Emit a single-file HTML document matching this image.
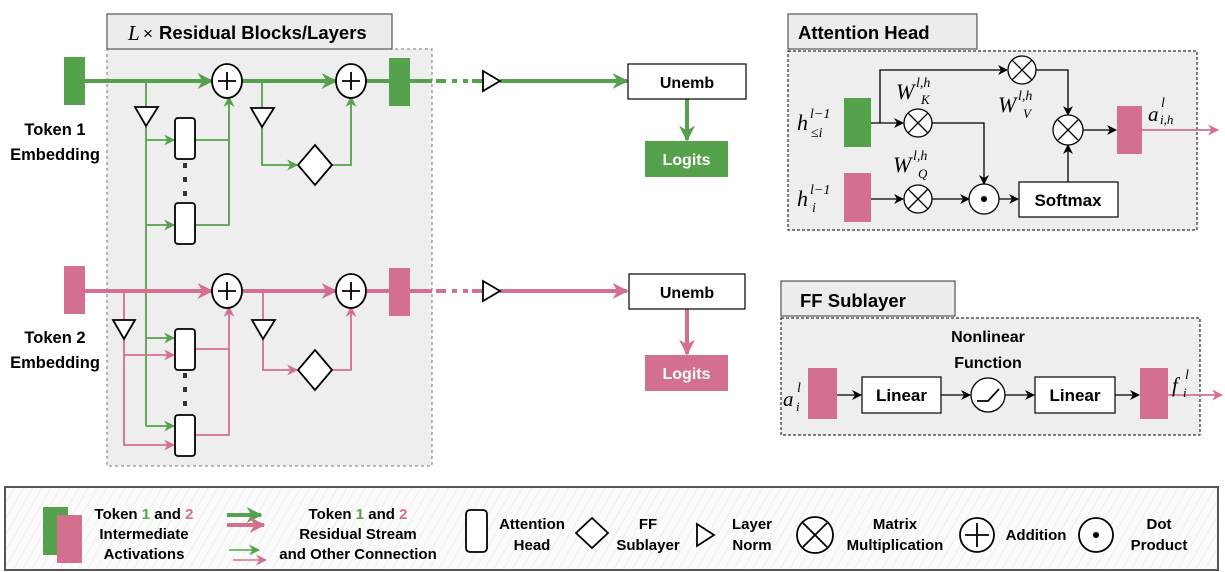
<!DOCTYPE html>
<html><head><meta charset="utf-8"><style>
html,body{margin:0;padding:0;background:#fff;}
svg{display:block;font-family:"Liberation Sans",sans-serif;}
.b{font-weight:bold;}
.m{font-family:"Liberation Serif",serif;font-style:italic;}
</style></head><body>
<svg width="1225" height="572" viewBox="0 0 1225 572" xmlns="http://www.w3.org/2000/svg">
<defs>
<marker id="agB" viewBox="0 0 10 10" refX="9" refY="5" markerWidth="18" markerHeight="16" orient="auto" markerUnits="userSpaceOnUse"><path d="M0,0 L10,5 L0,10 L3,5z" fill="#56a14b"/></marker>
<marker id="agS" viewBox="0 0 10 10" refX="9" refY="5" markerWidth="12" markerHeight="11" orient="auto" markerUnits="userSpaceOnUse"><path d="M0,0 L10,5 L0,10 L3,5z" fill="#56a14b"/></marker>
<marker id="apB" viewBox="0 0 10 10" refX="9" refY="5" markerWidth="18" markerHeight="16" orient="auto" markerUnits="userSpaceOnUse"><path d="M0,0 L10,5 L0,10 L3,5z" fill="#d3708f"/></marker>
<marker id="apS" viewBox="0 0 10 10" refX="9" refY="5" markerWidth="12" markerHeight="11" orient="auto" markerUnits="userSpaceOnUse"><path d="M0,0 L10,5 L0,10 L3,5z" fill="#d3708f"/></marker>
<marker id="ak" viewBox="0 0 10 10" refX="9" refY="5" markerWidth="11" markerHeight="10" orient="auto" markerUnits="userSpaceOnUse"><path d="M0,0 L10,5 L0,10 L3,5z" fill="#000"/></marker>
<pattern id="hatch" width="8" height="8" patternUnits="userSpaceOnUse" patternTransform="rotate(30)"><rect width="8" height="8" fill="#fbfbfb"/><line x1="0" y1="0" x2="0" y2="8" stroke="#e2e2e2" stroke-width="1"/></pattern>
</defs>

<!-- LEFT PANEL -->
<rect x="107" y="49" width="325" height="417" fill="#eeeeee" stroke="#777" stroke-dasharray="3,3"/>
<rect x="107" y="14" width="285" height="35" fill="#ececec" stroke="#555" stroke-width="1.2"/>
<text x="128" y="40" class="m" font-size="21">L</text><text x="143" y="39" font-size="17">×</text>
<text x="159" y="39" class="b" font-size="18.5">Residual Blocks/Layers</text>

<text x="55" y="135" class="b" font-size="16.5" text-anchor="middle">Token 1</text>
<text x="55" y="160" class="b" font-size="16.5" text-anchor="middle">Embedding</text>
<text x="55" y="343" class="b" font-size="16.5" text-anchor="middle">Token 2</text>
<text x="55" y="368" class="b" font-size="16.5" text-anchor="middle">Embedding</text>

<g stroke="#56a14b" stroke-width="1.8" fill="none">
<line x1="146" y1="81" x2="146" y2="108"/>
<line x1="146" y1="126" x2="146" y2="426"/>
<line x1="146" y1="140" x2="174" y2="140" marker-end="url(#agS)"/>
<line x1="146" y1="225" x2="174" y2="225" marker-end="url(#agS)"/>
<line x1="146" y1="338" x2="174" y2="338" marker-end="url(#agS)"/>
<line x1="146" y1="426" x2="174" y2="426" marker-end="url(#agS)"/>
<polyline points="195,140 229,140"/>
<polyline points="195,225 229,225 229,97" marker-end="url(#agS)"/>
<line x1="262" y1="81" x2="262" y2="108"/>
<polyline points="262,126 262,165 297,165" marker-end="url(#agS)"/>
<polyline points="332,165 351,165 351,97" marker-end="url(#agS)"/>
</g>
<g stroke="#d3708f" stroke-width="1.8" fill="none">
<line x1="124" y1="291" x2="124" y2="321"/>
<polyline points="124,338 124,355 174,355" marker-end="url(#apS)"/>
<polyline points="124,355 124,445 174,445" marker-end="url(#apS)"/>
<polyline points="195,349 229,349"/>
<polyline points="195,435 229,435 229,307" marker-end="url(#apS)"/>
<line x1="263" y1="291" x2="263" y2="321"/>
<polyline points="263,339 263,370 297,370" marker-end="url(#apS)"/>
<polyline points="332,370 351,370 351,307" marker-end="url(#apS)"/>
</g>

<g stroke-width="4" fill="none">
<line x1="85" y1="81" x2="212" y2="81" stroke="#56a14b" marker-end="url(#agB)"/>
<line x1="242" y1="81" x2="336" y2="81" stroke="#56a14b" marker-end="url(#agB)"/>
<line x1="366" y1="81" x2="432" y2="81" stroke="#56a14b"/>
<line x1="436" y1="81" x2="482" y2="81" stroke="#56a14b" stroke-dasharray="10,6,5,6,5,4"/>
<line x1="500" y1="81" x2="627" y2="81" stroke="#56a14b" marker-end="url(#agB)"/>
<line x1="687" y1="99" x2="687" y2="140" stroke="#56a14b" marker-end="url(#agB)"/>
<line x1="85" y1="291" x2="212" y2="291" stroke="#d3708f" marker-end="url(#apB)"/>
<line x1="242" y1="291" x2="336" y2="291" stroke="#d3708f" marker-end="url(#apB)"/>
<line x1="366" y1="291" x2="432" y2="291" stroke="#d3708f"/>
<line x1="436" y1="291" x2="482" y2="291" stroke="#d3708f" stroke-dasharray="10,6,5,6,5,4"/>
<line x1="500" y1="291" x2="627" y2="291" stroke="#d3708f" marker-end="url(#apB)"/>
<line x1="687" y1="309" x2="687" y2="354" stroke="#d3708f" marker-end="url(#apB)"/>
</g>

<rect x="64" y="57" width="21" height="48" fill="#56a14b"/>
<rect x="389" y="58" width="21" height="48" fill="#56a14b"/>
<rect x="64" y="266" width="21" height="48" fill="#d3708f"/>
<rect x="389" y="268" width="21" height="48" fill="#d3708f"/>

<g stroke="#000" stroke-width="1.8" fill="#fff">
<ellipse cx="227" cy="81" rx="15" ry="17"/><ellipse cx="351" cy="81" rx="15" ry="17"/>
<ellipse cx="227" cy="291" rx="15" ry="17"/><ellipse cx="351" cy="291" rx="15" ry="17"/>
</g>
<g stroke="#000" stroke-width="1.8">
<path d="M218,81h18M227,72v18M342,81h18M351,72v18M218,291h18M227,282v18M342,291h18M351,282v18"/>
</g>
<g stroke="#000" stroke-width="1.8" fill="#fff">
<polygon points="135,107 158,107 146,126"/>
<polygon points="251,108 274,108 262,127"/>
<polygon points="113,320 135,320 124,339"/>
<polygon points="252,320 275,320 263,339"/>
<polygon points="483,71 500,81 483,91"/>
<polygon points="483,281 500,291 483,301"/>
<rect x="175" y="118" width="20" height="41" rx="3"/>
<rect x="175" y="203" width="20" height="41" rx="3"/>
<rect x="175" y="329" width="20" height="41" rx="3"/>
<rect x="175" y="415" width="20" height="41" rx="3"/>
<polygon points="315,145 332,165 315,185 298,165"/>
<polygon points="315,350 332,370 315,390 298,370"/>
</g>
<g fill="#333">
<rect x="183" y="163" width="4" height="5"/><rect x="183" y="177" width="4" height="5"/><rect x="183" y="191" width="4" height="5"/>
<rect x="183" y="373" width="4" height="5"/><rect x="183" y="387" width="4" height="5"/><rect x="183" y="401" width="4" height="5"/>
</g>

<rect x="628" y="64" width="118" height="35" fill="#fff" stroke="#000" stroke-width="1.2"/>
<text x="687" y="88" class="b" font-size="16" text-anchor="middle">Unemb</text>
<rect x="645" y="141" width="83" height="36" fill="#56a14b"/>
<text x="686.5" y="165" class="b" font-size="16" fill="#fff" text-anchor="middle">Logits</text>
<rect x="629" y="274" width="116" height="35" fill="#fff" stroke="#000" stroke-width="1.2"/>
<text x="687" y="298" class="b" font-size="16" text-anchor="middle">Unemb</text>
<rect x="645" y="355" width="83" height="36" fill="#d3708f"/>
<text x="686.5" y="379" class="b" font-size="16" fill="#fff" text-anchor="middle">Logits</text>

<!-- ATTENTION HEAD PANEL -->
<rect x="788" y="51" width="409" height="179" fill="#eeeeee" stroke="#000" stroke-dasharray="3,2"/>
<rect x="788" y="14" width="189" height="35" fill="#ececec" stroke="#555" stroke-width="1.2"/>
<text x="798" y="39" class="b" font-size="18.5">Attention Head</text>
<rect x="844" y="98" width="27" height="49" fill="#56a14b"/>
<rect x="844" y="173" width="27" height="49" fill="#d3708f"/>
<rect x="1117" y="106" width="25" height="48" fill="#d3708f"/>
<g stroke="#000" stroke-width="1.3" fill="none">
<line x1="871" y1="123" x2="903" y2="123" marker-end="url(#ak)"/>
<polyline points="880,123 880,70 1007,70" marker-end="url(#ak)"/>
<polyline points="932,123 984,123 984,184" marker-end="url(#ak)"/>
<line x1="871" y1="199" x2="903" y2="199" marker-end="url(#ak)"/>
<line x1="932" y1="199" x2="969" y2="199" marker-end="url(#ak)"/>
<line x1="999" y1="199" x2="1018" y2="199" marker-end="url(#ak)"/>
<line x1="1068" y1="182" x2="1068" y2="145" marker-end="url(#ak)"/>
<polyline points="1036,70 1068,70 1068,115" marker-end="url(#ak)"/>
<line x1="1083" y1="130" x2="1116" y2="130" marker-end="url(#ak)"/>
</g>
<line x1="1142" y1="130" x2="1218" y2="130" stroke="#d3708f" stroke-width="1.8" marker-end="url(#apS)"/>
<g stroke="#000" stroke-width="1.3" fill="#fff">
<circle cx="918" cy="123" r="14"/><circle cx="918" cy="199" r="14"/>
<circle cx="1022" cy="70" r="14"/><circle cx="1068" cy="130" r="15"/>
<circle cx="984" cy="199" r="15"/>
</g>
<g stroke="#000" stroke-width="1.3">
<path d="M908,113l20,20M928,113l-20,20M908,189l20,20M928,189l-20,20M1012,60l20,20M1032,60l-20,20M1058,120l20,20M1078,120l-20,20"/>
</g>
<circle cx="984" cy="199" r="3" fill="#000"/>
<rect x="1019" y="182" width="99" height="35" fill="#fff" stroke="#000" stroke-width="1.2"/>
<text x="1068" y="206" class="b" font-size="17" text-anchor="middle">Softmax</text>
<g class="m">
<text x="797" y="130" font-size="22">h</text><text x="810" y="118" font-size="14">l−1</text><text x="811" y="137" font-size="14">≤i</text>
<text x="797" y="206" font-size="22">h</text><text x="810" y="194" font-size="14">l−1</text><text x="812" y="212" font-size="14">i</text>
<text x="896" y="99" font-size="22">W</text><text x="916" y="87" font-size="14">l,h</text><text x="921" y="104" font-size="13">K</text>
<text x="893" y="172" font-size="22">W</text><text x="913" y="160" font-size="14">l,h</text><text x="918" y="178" font-size="13">Q</text>
<text x="998" y="112" font-size="22">W</text><text x="1018" y="100" font-size="14">l,h</text><text x="1023" y="118" font-size="13">V</text>
<text x="1148" y="121" font-size="21">a</text><text x="1161" y="107" font-size="14">l</text><text x="1160" y="124" font-size="13">i,h</text>
</g>

<!-- FF SUBLAYER PANEL -->
<rect x="781" y="318" width="419" height="117" fill="#eeeeee" stroke="#000" stroke-dasharray="3,2"/>
<rect x="781" y="281" width="174" height="35" fill="#ececec" stroke="#555" stroke-width="1.2"/>
<text x="800" y="307" class="b" font-size="18.5">FF Sublayer</text>
<text x="988" y="342" class="b" font-size="16" text-anchor="middle">Nonlinear</text>
<text x="988" y="368" class="b" font-size="16" text-anchor="middle">Function</text>
<rect x="808" y="368" width="29" height="51" fill="#d3708f"/>
<rect x="1140" y="368" width="28" height="51" fill="#d3708f"/>
<g stroke="#000" stroke-width="1.3" fill="none">
<line x1="837" y1="395" x2="861" y2="395" marker-end="url(#ak)"/>
<line x1="941" y1="395" x2="970" y2="395" marker-end="url(#ak)"/>
<line x1="1005" y1="395" x2="1034" y2="395" marker-end="url(#ak)"/>
<line x1="1115" y1="395" x2="1139" y2="395" marker-end="url(#ak)"/>
</g>
<line x1="1168" y1="395" x2="1222" y2="395" stroke="#d3708f" stroke-width="1.8" marker-end="url(#apS)"/>
<rect x="862" y="377" width="79" height="36" fill="#fff" stroke="#000" stroke-width="1.2"/>
<text x="901.5" y="401" class="b" font-size="17" text-anchor="middle">Linear</text>
<rect x="1035" y="377" width="80" height="36" fill="#fff" stroke="#000" stroke-width="1.2"/>
<text x="1075" y="401" class="b" font-size="17" text-anchor="middle">Linear</text>
<circle cx="988" cy="395" r="17" fill="#fff" stroke="#000" stroke-width="1.3"/>
<polyline points="977,401 988,401 999,389" fill="none" stroke="#000" stroke-width="1.8"/>
<g class="m">
<text x="783" y="406" font-size="21">a</text><text x="797" y="392" font-size="14">l</text><text x="796" y="411" font-size="13">i</text>
<text x="1172" y="392" font-size="21">f</text><text x="1185" y="379" font-size="14">l</text><text x="1183" y="397" font-size="13">i</text>
</g>

<!-- LEGEND -->
<rect x="5" y="487" width="1213" height="83" fill="url(#hatch)" stroke="#555" stroke-width="2"/>
<rect x="43" y="507" width="25" height="48" fill="#56a14b"/>
<rect x="57" y="515" width="25" height="48" fill="#d3708f"/>
<g class="b" font-size="15" text-anchor="middle">
<text x="144" y="519">Token <tspan fill="#56a14b">1</tspan> and <tspan fill="#d3708f">2</tspan></text>
<text x="144" y="539">Intermediate</text>
<text x="144" y="559">Activations</text>
<text x="358" y="519">Token <tspan fill="#56a14b">1</tspan> and <tspan fill="#d3708f">2</tspan></text>
<text x="358" y="539">Residual Stream</text>
<text x="358" y="559">and Other Connection</text>
<text x="532" y="529">Attention</text><text x="532" y="550">Head</text>
<text x="648" y="529">FF</text><text x="648" y="550">Sublayer</text>
<text x="752" y="529">Layer</text><text x="752" y="550">Norm</text>
<text x="895" y="529">Matrix</text><text x="895" y="550">Multiplication</text>
<text x="1036" y="540">Addition</text>
<text x="1159" y="529">Dot</text><text x="1159" y="550">Product</text>
</g>
<line x1="227" y1="515" x2="261" y2="515" stroke="#56a14b" stroke-width="4" marker-end="url(#agB)"/>
<line x1="227" y1="525" x2="264" y2="525" stroke="#d3708f" stroke-width="4" marker-end="url(#apB)"/>
<line x1="229" y1="550" x2="259" y2="550" stroke="#56a14b" stroke-width="1.5" marker-end="url(#agS)"/>
<line x1="233" y1="560" x2="266" y2="560" stroke="#d3708f" stroke-width="1.5" marker-end="url(#apS)"/>
<g stroke="#000" stroke-width="1.8" fill="#fff">
<rect x="466" y="510" width="21" height="42" rx="4"/>
<polygon points="592,518 608,533 592,548 576,533"/>
<polygon points="697,524 714,535 697,546"/>
<circle cx="815" cy="535" r="18"/>
<circle cx="977" cy="535" r="17"/>
<circle cx="1096" cy="535" r="17"/>
<path d="M803,523l24,24M827,523l-24,24M965,535h24M977,523v24" fill="none"/>
</g>
<circle cx="1096" cy="535" r="3" fill="#000"/>
</svg>
</body></html>
